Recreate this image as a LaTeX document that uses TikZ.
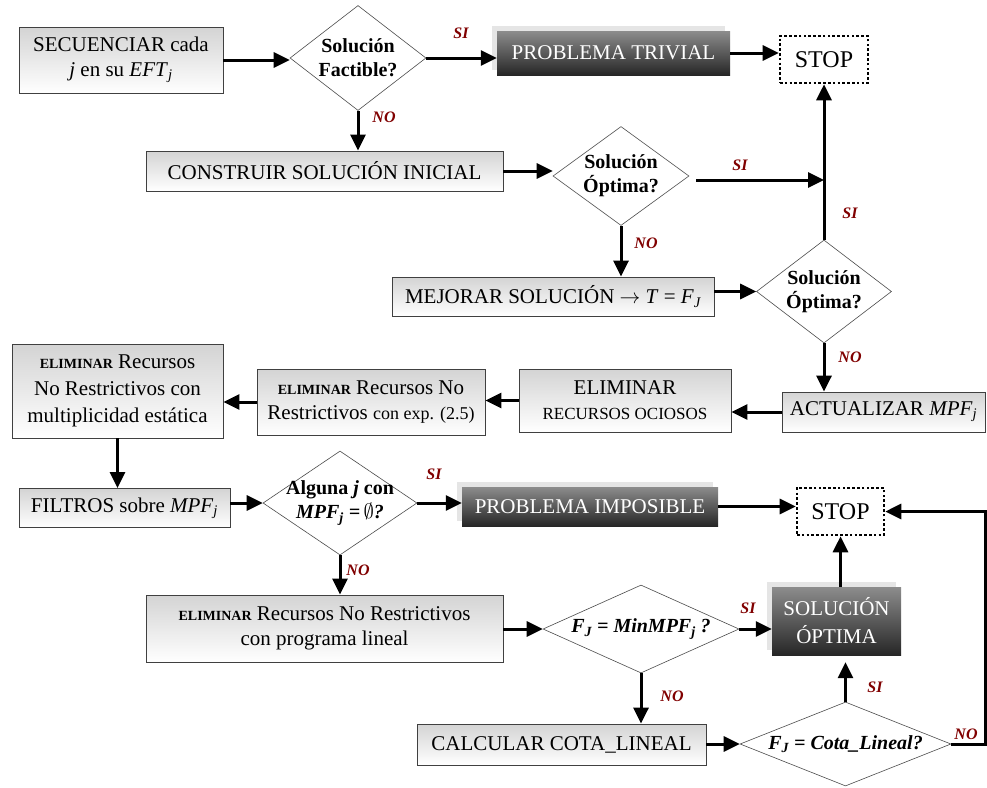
\documentclass[tikz,border=0pt]{standalone}
\usepackage{fontspec}
\setmainfont{Liberation Serif}
\usetikzlibrary{arrows.meta,shapes.geometric,shadows}
\definecolor{labred}{RGB}{128,0,0}
\newcommand\subj{\textsubscript{\itshape j}}
\newcommand\subJ{\textsubscript{\itshape J}}
\newcommand\elim{{\fontsize{14}{14}\selectfont\bfseries ELIMINAR}}
\tikzset{
 base/.style={font=\fontsize{21}{25}\selectfont, align=center, inner sep=0pt},
 lbox/.style={base, draw=black!75, line width=0.8pt, top color=black!17, bottom color=white},
 dbox/.style={base, text=white, top color=black!45, bottom color=black!85,
   general shadow={fill=black!10, shadow xshift=-5pt, shadow yshift=5pt}},
 dia/.style={diamond, draw=black!70, line width=0.6pt, inner sep=0pt, fill=white},
 dtext/.style={base, font=\fontsize{20}{24}\selectfont\bfseries},
 stopbox/.style={base, font=\fontsize{24}{26}\selectfont, draw, line width=2.6pt, dash pattern=on 2.6pt off 2.2pt},
 arr/.style={line width=3pt, -{Triangle[length=16pt,width=15pt]}},
 lab/.style={font=\fontsize{16}{16}\selectfont\bfseries\itshape, text=labred, inner sep=0pt},
}
\begin{document}
\begin{tikzpicture}[x=1pt,y=-1pt]
\useasboundingbox (0,0) rectangle (987,787);

% nodes
\node[lbox, minimum width=204pt, minimum height=66pt] (n1) at (121,60) {SECUENCIAR cada\\\textit{j} en su \textit{EFT}\subj};
\node[dia, minimum width=136pt, minimum height=105pt] (d1) at (358,58) {};
\node[dtext] (t1) at (d1) {Solución\\Factible?};
\node[dbox, minimum width=233pt, minimum height=44pt] (p1) at (613.5,53) {PROBLEMA TRIVIAL};
\node[stopbox, minimum width=88pt, minimum height=47pt] (s1) at (824,59.5) {STOP};

\node[lbox, minimum width=357pt, minimum height=40pt] (n2) at (324.5,171) {CONSTRUIR SOLUCIÓN INICIAL};
\node[dia, minimum width=136pt, minimum height=99pt] (d2) at (621,176) {};
\node[dtext] (t2) at (d2) {Solución\\Óptima?};

\node[lbox, minimum width=322pt, minimum height=39pt] (n3) at (553,296.5) {MEJORAR SOLUCIÓN $\rightarrow$ \textit{T} = \textit{F}\subJ};
\node[dia, minimum width=135pt, minimum height=103pt] (d3) at (824,291.5) {};
\node[dtext] (t3) at (d3) {Solución\\Óptima?};

\node[lbox, minimum width=203pt, minimum height=40pt] (n4) at (883.5,412) {ACTUALIZAR \textit{MPF}\subj};
\node[lbox, minimum width=212pt, minimum height=63pt] (n5) at (625,400.5) {ELIMINAR\\{\fontsize{17}{17}\selectfont RECURSOS OCIOSOS}};
\node[lbox, minimum width=228pt, minimum height=66pt] (n6) at (371,402) {\elim{} Recursos No\\Restrictivos {\fontsize{18}{18}\selectfont con exp. (2.5)}};
\node[lbox, minimum width=211pt, minimum height=94pt] (n7) at (117.5,391) {\elim{} Recursos\\[2pt]No Restrictivos con\\[2pt]multiplicidad estática};

\node[lbox, minimum width=211pt, minimum height=39pt] (n8) at (124.5,508) {FILTROS sobre \textit{MPF}\subj};
\node[dia, minimum width=154pt, minimum height=104pt] (d4) at (340,503) {};
\node[dtext] (t4) at (d4) {Alguna \textit{j} con\\{\itshape MPF\subj{} =}\,$\emptyset${\itshape ?}};
\node[dbox, minimum width=256pt, minimum height=39pt] (p2) at (590,506.5) {PROBLEMA IMPOSIBLE};
\node[stopbox, minimum width=87pt, minimum height=47pt] (s2) at (840.5,511.5) {STOP};

\node[lbox, minimum width=357pt, minimum height=67pt] (n9) at (324.5,628.5) {\elim{} Recursos No Restrictivos\\con programa lineal};
\node[dia, minimum width=196pt, minimum height=88pt] (d5) at (641,629) {};
\node[dtext] (t5) at (d5) {\itshape F\subJ{} = MinMPF\subj{} ?};
\node[dbox, minimum width=129pt, minimum height=68pt] (p3) at (836.5,621) {SOLUCIÓN\\[3pt]ÓPTIMA};

\node[lbox, minimum width=289pt, minimum height=41pt] (n10) at (561.5,744.5) {CALCULAR COTA\_LINEAL};
\node[dia, minimum width=211pt, minimum height=84pt] (d6) at (845.5,744) {};
\node[dtext] (t6) at (d6) {\itshape F\subJ{} = Cota\_Lineal?};

\coordinate (j1) at (824,180);
\coordinate (c1) at (985,744);

% connectors
\draw[arr] (n1.east) -- (n1.east -| d1.west);
\draw[arr] (d1.east) -- (d1.east -| p1.west);
\draw[arr] (p1.east) -- (p1.east -| s1.west);
\draw[arr] (d1.south) -- (d1.south |- n2.north);
\draw[arr] (n2.east) -- (n2.east -| d2.west);
\draw[arr, shorten <=7pt] (d2.east |- j1) -- (j1);
\draw[arr] (d3.north) -- (d3.north |- s1.south);
\draw[arr] (d2.south) -- (d2.south |- n3.north);
\draw[arr] (n3.east |- d3.west) -- (d3.west);
\draw[arr] (d3.south) -- (d3.south |- n4.north);
\draw[arr] (n4.west) -- (n4.west -| n5.east);
\draw[arr] (n5.west) -- (n5.west -| n6.east);
\draw[arr] (n6.west) -- (n6.west -| n7.east);
\draw[arr] (n7.south) -- (n7.south |- n8.north);
\draw[arr] (n8.east |- d4.west) -- (d4.west);
\draw[arr] (d4.east) -- (d4.east -| p2.west);
\draw[arr] (p2.east) -- (p2.east -| s2.west);
\draw[arr] (d4.south) -- (d4.south |- n9.north);
\draw[arr] (n9.east |- d5.west) -- (d5.west);
\draw[arr] (d5.east) -- (d5.east -| p3.west);
\draw[arr] (s2.south |- p3.north) -- (s2.south);
\draw[arr] (d5.south) -- (d5.south |- n10.north);
\draw[arr] (n10.east |- d6.west) -- (d6.west);
\draw[arr, shorten >=7pt] (d6.north) -- (d6.north |- p3.south);
\draw[arr] (d6.east) -- (c1) |- (s2.east);

% labels
\node[lab] (l1) at (461,33) {SI};
\node[lab] (l2) at (384,117) {NO};
\node[lab] (l3) at (740,165) {SI};
\node[lab] (l4) at (850,213) {SI};
\node[lab] (l5) at (646,243) {NO};
\node[lab] (l6) at (850,357) {NO};
\node[lab] (l7) at (434,474) {SI};
\node[lab] (l8) at (358,570) {NO};
\node[lab] (l9) at (748,608) {SI};
\node[lab] (l10) at (672,696) {NO};
\node[lab] (l11) at (875,687) {SI};
\node[lab] (l12) at (966,734) {NO};
\end{tikzpicture}
\end{document}
